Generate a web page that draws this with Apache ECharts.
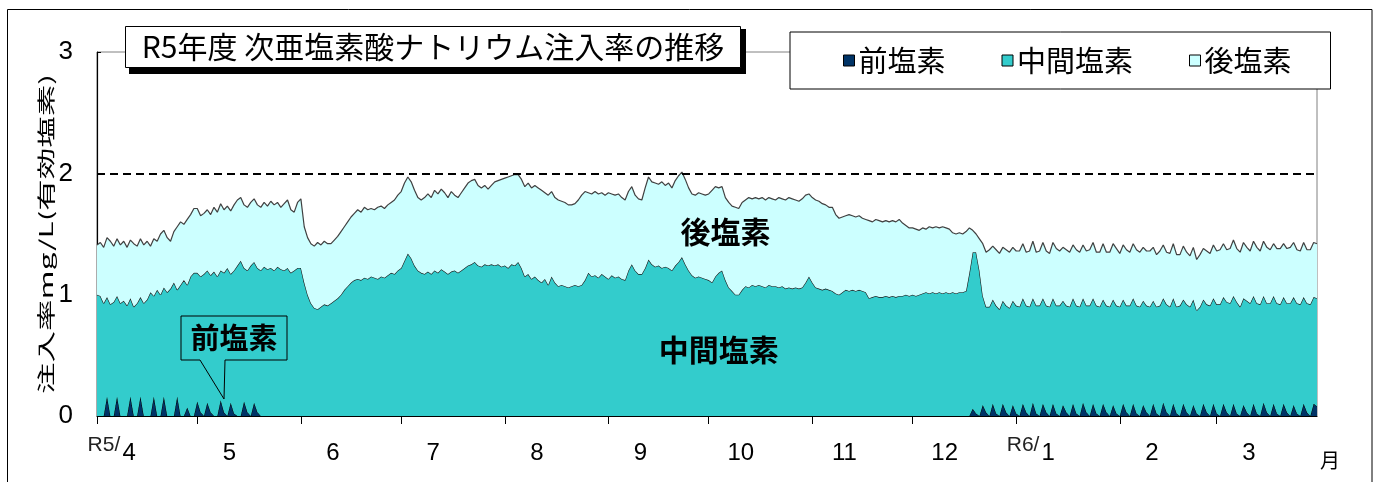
<!DOCTYPE html>
<html><head><meta charset="utf-8">
<script src="https://cdn.jsdelivr.net/npm/echarts/dist/echarts.min.js"></script>
<style>html,body{margin:0;padding:0;background:#fff}#c{width:1376px;height:482px}</style>
</head><body><div id="c"></div><script>
// ---- axis / category definitions ----
const monthLabels = ['4','5','6','7','8','9','10','11','12','1','2','3'];
const monthDays   = [30,31,30,31,31,30,31,30,31,31,29,31];
const eraLabels   = ['R5/','','','','','','','','','R6/','',''];
const yTicks = [0,1,2,3];
const yAxisTitle = '注入率mg/L(有効塩素)';
const seriesNames = ['前塩素','中間塩素','後塩素'];

// ---- series values (mg/L), one value per day, Apr 2023 .. Mar 2024 ----
const maeEnso = [
/*4*/ 0,0,0,0.16,0,0,0.16,0,0,0, 0.16,0,0,0.16,0,0,0,0.16,0,0, 0.16,0,0,0,0.16,0,0,0.07,0,0,
/*5*/ 0.12,0.03,0,0.11,0.03,0,0,0.13,0.03,0, 0.11,0.02,0,0,0.12,0.03,0,0.11,0.03,0, 0,0,0,0,0,0,0,0,0,0,0,
/*6*/ 0,0,0,0,0,0,0,0,0,0, 0,0,0,0,0,0,0,0,0,0, 0,0,0,0,0,0,0,0,0,0,
/*7*/ 0,0,0,0,0,0,0,0,0,0, 0,0,0,0,0,0,0,0,0,0, 0,0,0,0,0,0,0,0,0,0,0,
/*8*/ 0,0,0,0,0,0,0,0,0,0, 0,0,0,0,0,0,0,0,0,0, 0,0,0,0,0,0,0,0,0,0,0,
/*9*/ 0,0,0,0,0,0,0,0,0,0, 0,0,0,0,0,0,0,0,0,0, 0,0,0,0,0,0,0,0,0,0,
/*10*/0,0,0,0,0,0,0,0,0,0, 0,0,0,0,0,0,0,0,0,0, 0,0,0,0,0,0,0,0,0,0,0,
/*11*/0,0,0,0,0,0,0,0,0,0, 0,0,0,0,0,0,0,0,0,0, 0,0,0,0,0,0,0,0,0,0,
/*12*/0,0,0,0,0,0,0,0,0,0, 0,0,0,0,0,0,0,0, 0.06,0.02,0,0.09,0.03,0,0.1,0.02,0,0.1,0.03,0,0.09,
/*1*/ 0.02,0,0.1,0.03,0,0.11,0.02,0,0.1,0.03, 0,0.1,0.02,0,0.09,0.03,0,0.1,0.02,0, 0.11,0.03,0,0.1,0.02,0,0.1,0.03,0,0.09, 0.02,
/*2*/ 0,0.1,0.03,0,0.1,0.02,0,0.09,0.03,0, 0.1,0.02,0,0.11,0.03,0,0.1,0.02,0,0.1, 0.03,0,0.09,0.02,0,0.1,0.03,0,0.1,
/*3*/ 0.02,0,0.1,0.03,0,0.1,0.02,0,0.09,0.03, 0,0.1,0.02,0,0.11,0.03,0,0.1,0.02,0, 0.1,0.03,0,0.09,0.02,0,0.1,0.03,0,0.1, 0.08
];
const chukanEnso = [
/*4*/ 1.0,0.99,0.93,0.82,0.92,0.94,0.83,0.93,0.95,0.91, 0.81,0.9,0.93,0.82,0.93,0.96,1.02,0.83,1.04,1.0, 0.9,1.02,1.05,1.1,0.88,1.08,1.12,1.01,1.15,1.18,
/*5*/ 1.06,1.12,1.17,1.09,1.13,1.19,1.15,1.07,1.15,1.22, 1.06,1.18,1.24,1.28,1.1,1.17,1.24,1.16,1.19,1.2, 1.23,1.21,1.22,1.2,1.23,1.21,1.2,1.22,1.18,1.2,1.22,
/*6*/ 1.22,1.1,1.0,0.93,0.89,0.88,0.9,0.92,0.91,0.93, 0.95,0.97,1.0,1.04,1.07,1.1,1.12,1.13,1.12,1.14, 1.13,1.15,1.14,1.13,1.15,1.14,1.16,1.18,1.17,1.2,
/*7*/ 1.22,1.28,1.34,1.3,1.24,1.2,1.18,1.17,1.19,1.17, 1.2,1.18,1.21,1.19,1.17,1.19,1.2,1.18,1.2,1.22, 1.24,1.25,1.27,1.24,1.23,1.25,1.24,1.25,1.24,1.25,1.23,
/*8*/ 1.24,1.22,1.25,1.24,1.27,1.22,1.15,1.17,1.13,1.15, 1.12,1.1,1.13,1.08,1.15,1.1,1.07,1.08,1.07,1.06, 1.07,1.08,1.07,1.08,1.12,1.18,1.15,1.16,1.14,1.17,1.15,
/*9*/ 1.13,1.16,1.14,1.15,1.13,1.12,1.2,1.25,1.2,1.17, 1.17,1.22,1.29,1.25,1.23,1.24,1.22,1.23,1.22,1.2, 1.24,1.27,1.31,1.25,1.2,1.16,1.14,1.15,1.14,1.13,
/*10*/1.12,1.1,1.15,1.18,1.2,1.12,1.06,1.03,1.0,1.0, 1.04,1.07,1.06,1.08,1.07,1.08,1.07,1.06,1.08,1.07, 1.07,1.06,1.07,1.05,1.06,1.05,1.06,1.05,1.06,1.1,1.15,
/*11*/1.1,1.06,1.05,1.04,1.05,1.04,1.03,1.01,1.0,1.02, 1.04,1.03,1.04,1.03,1.04,1.03,1.02,0.97,0.98,0.99, 0.98,0.98,0.99,0.98,0.99,0.98,0.99,0.99,1.0,0.99,
/*12*/1.0,0.99,1.0,1.01,1.02,1.01,1.02,1.01,1.02,1.01, 1.02,1.01,1.02,1.01,1.02,1.02,1.03,1.18, 1.29,1.33,1.2,0.9,0.87,0.9,0.86,0.89,0.88,0.85,0.88,0.89,0.86,
/*1*/ 0.89,0.9,0.87,0.88,0.9,0.86,0.89,0.91,0.87,0.88, 0.9,0.87,0.89,0.91,0.86,0.88,0.9,0.87,0.89,0.9, 0.86,0.88,0.91,0.87,0.89,0.9,0.86,0.88,0.9,0.87, 0.89,
/*2*/ 0.9,0.86,0.88,0.91,0.87,0.89,0.9,0.86,0.88,0.9, 0.85,0.88,0.91,0.86,0.89,0.9,0.87,0.88,0.91,0.86, 0.89,0.9,0.87,0.85,0.9,0.86,0.89,0.91,0.87,
/*3*/ 0.9,0.92,0.88,0.91,0.93,0.89,0.92,0.9,0.88,0.92, 0.93,0.89,0.91,0.92,0.88,0.9,0.93,0.89,0.91,0.92, 0.88,0.9,0.93,0.89,0.91,0.92,0.88,0.9,0.92,0.88, 0.89
];
const atoEnso = [
/*4*/ 0.41,0.44,0.46,0.49,0.52,0.46,0.47,0.48,0.49,0.48, 0.48,0.52,0.47,0.48,0.48,0.48,0.38,0.47,0.4,0.5, 0.47,0.45,0.39,0.42,0.52,0.52,0.46,0.54,0.51,0.53,
/*5*/ 0.53,0.5,0.5,0.5,0.5,0.53,0.53,0.55,0.52,0.51, 0.52,0.54,0.54,0.52,0.52,0.52,0.52,0.52,0.52,0.52, 0.53,0.52,0.55,0.54,0.53,0.51,0.55,0.56,0.52,0.48,0.54,
/*6*/ 0.57,0.46,0.47,0.49,0.51,0.55,0.51,0.52,0.51,0.49, 0.5,0.51,0.52,0.52,0.53,0.54,0.55,0.57,0.56,0.58, 0.57,0.56,0.56,0.59,0.58,0.57,0.58,0.58,0.61,0.62,
/*7*/ 0.63,0.64,0.63,0.63,0.62,0.6,0.6,0.63,0.64,0.63, 0.66,0.65,0.66,0.65,0.63,0.66,0.62,0.62,0.64,0.66, 0.68,0.69,0.68,0.66,0.65,0.65,0.63,0.65,0.69,0.69,0.72,
/*8*/ 0.72,0.75,0.73,0.75,0.72,0.73,0.74,0.75,0.75,0.75, 0.76,0.76,0.71,0.74,0.7,0.7,0.71,0.69,0.69,0.68, 0.67,0.67,0.71,0.74,0.73,0.66,0.68,0.69,0.69,0.67,0.67,
/*9*/ 0.71,0.67,0.68,0.68,0.67,0.66,0.65,0.64,0.62,0.62, 0.61,0.66,0.68,0.68,0.69,0.67,0.71,0.67,0.7,0.68, 0.7,0.71,0.7,0.7,0.68,0.67,0.68,0.69,0.69,0.69,
/*10*/0.71,0.76,0.74,0.7,0.69,0.68,0.7,0.7,0.72,0.71, 0.72,0.71,0.74,0.71,0.73,0.71,0.73,0.72,0.72,0.72, 0.71,0.74,0.72,0.73,0.74,0.74,0.72,0.72,0.73,0.72,0.68,
/*11*/0.7,0.72,0.72,0.71,0.69,0.68,0.69,0.65,0.63,0.62, 0.61,0.63,0.61,0.61,0.61,0.6,0.6,0.64,0.62,0.63, 0.63,0.62,0.62,0.62,0.62,0.62,0.63,0.6,0.57,0.56,
/*12*/0.55,0.55,0.53,0.54,0.52,0.55,0.53,0.55,0.53,0.55, 0.53,0.53,0.49,0.49,0.49,0.48,0.49,0.37,0.18,0.15, 0.26,0.43,0.45,0.47,0.44,0.46,0.46,0.44,0.46,0.46,0.44,
/*1*/ 0.45,0.46,0.45,0.44,0.46,0.47,0.44,0.45,0.46,0.45, 0.44,0.46,0.47,0.45,0.44,0.46,0.45,0.44,0.46,0.45, 0.44,0.45,0.46,0.46,0.44,0.45,0.46,0.44,0.45,0.46, 0.47,
/*2*/ 0.44,0.45,0.46,0.44,0.45,0.46,0.45,0.44,0.45,0.46, 0.44,0.43,0.45,0.44,0.43,0.44,0.45,0.43,0.42,0.44, 0.43,0.42,0.43,0.42,0.43,0.42,0.44,0.43,0.44,
/*3*/ 0.44,0.45,0.44,0.43,0.45,0.46,0.44,0.45,0.46,0.44, 0.43,0.45,0.46,0.44,0.45,0.46,0.44,0.43,0.45,0.46, 0.44,0.45,0.46,0.45,0.44,0.44,0.45,0.44,0.45,0.45, 0.45
];
const guideLevel = 2;  // dashed reference line

// annotation texts (anchored in data coordinates: day index, value)
const areaNotes = [
  {text:'後塩素',   day:188, value:1.52},
  {text:'中間塩素', day:186, value:0.55}
];
const calloutNote = {text:'前塩素', day:38, value:0.14};

// ---- build category axis ----
const categories = [], monthOf = [], dayOf = [];
monthDays.forEach((n, mi) => {
  for (let d = 1; d <= n; d++) { categories.push(monthLabels[mi] + '/' + d); monthOf.push(mi); dayOf.push(d); }
});

const CJK = "'Noto Sans CJK JP', 'Noto Sans CJK SC', sans-serif";
const NUM = "'Liberation Sans', Arial, sans-serif";

const chart = echarts.init(document.getElementById('c'), null, {renderer:'canvas'});

const colors = ['#003366', '#33CCCC', '#CCFFFF'];
const lineColors = ['#000000', '#1a1a1a', '#404040'];
const values = [maeEnso, chukanEnso, atoEnso];

const option = {
  animation: false,
  backgroundColor: '#ffffff',
  title: {
    text: '{t|R5年度 次亜塩素酸ナトリウム注入率の推移}',
    left: 125, top: 25, padding: [6, 8], z: 10,
    backgroundColor: '#ffffff', borderColor: '#000', borderWidth: 1,
    textStyle: { fontWeight: 'normal', rich: { t: { fontSize: 30, fontWeight: 'normal', fontFamily: CJK, color: '#000', width: 600, align: 'center', lineHeight: 32 } } }
  },
  legend: {
    data: seriesNames, left: 790, top: 32, orient: 'horizontal',
    padding: [14, 39, 14, 53], itemGap: 56, itemWidth: 11, itemHeight: 11, icon: 'rect',
    borderColor: '#000', borderWidth: 1, backgroundColor: '#fff',
    itemStyle: { borderColor: '#000', borderWidth: 1 },
    textStyle: { fontSize: 29, fontFamily: CJK, color: '#000', lineHeight: 26, padding: [0,0,0,-1] },
    selectedMode: false
  },
  grid: { left: 97, right: 59, top: 52, bottom: 66, show: true, borderColor: '#808080', borderWidth: 1, backgroundColor: 'transparent', containLabel: false, outerBoundsMode: 'none' },
  xAxis: {
    type: 'category', data: categories, boundaryGap: false,
    axisLine: { show: true, lineStyle: { color: '#000', width: 1.2 } },
    axisTick: { show: true, length: 8, lineStyle: { color: '#000' }, interval: (i) => dayOf[i] === 1 },
    splitLine: { show: false },
    axisLabel: {
      interval: (i) => dayOf[i] === 10, margin: 19, color: '#000', padding: [0, 0, 0, 4],
      formatter: (v, i) => {
        const m = monthOf[i];
        return eraLabels[m] ? '{a|' + eraLabels[m] + '}{b|' + monthLabels[m] + '}{c| }' : '{b|' + monthLabels[m] + '}';
      },
      rich: {
        a: { fontSize: 21, fontFamily: NUM, color: '#222', width: 37, align: 'right', lineHeight: 22, verticalAlign: 'top' },
        b: { fontSize: 24, fontFamily: NUM, color: '#000', lineHeight: 36 },
        c: { fontSize: 20, width: 37 }
      }
    },
    name: '月', nameLocation: 'end', nameGap: 3,
    nameTextStyle: { fontSize: 20, fontFamily: CJK, color: '#000', align: 'left', verticalAlign: 'top', padding: [34, 0, 0, 0] }
  },
  yAxis: {
    type: 'value', min: yTicks[0], max: yTicks[yTicks.length - 1], interval: 1,
    axisLine: { show: true, lineStyle: { color: '#000', width: 1.2 } },
    axisTick: { show: true, inside: true, length: 4, lineStyle: { color: '#000' } },
    splitLine: { show: false },
    axisLabel: { fontSize: 26, fontFamily: NUM, color: '#000', margin: 24 }
  },
  series: seriesNames.map((name, k) => ({
    name, type: 'line', stack: 'total', data: values[k],
    symbol: 'none', showSymbol: false, smooth: false,
    itemStyle: { color: colors[k] },
    lineStyle: { color: lineColors[k], width: k === 0 ? 1 : 1.2 },
    areaStyle: { color: colors[k], opacity: 1 },
    emphasis: { disabled: true },
    z: 2 + k,
    markLine: k === 2 ? {
      silent: true, symbol: ['none', 'none'], label: { show: false },
      lineStyle: { type: [8, 5], color: '#000', width: 2 },
      data: [{ yAxis: guideLevel }]
    } : undefined
  })),
  graphic: [
    { type: 'rect', silent: true, z: -10, shape: { x: 7.5, y: 9.5, width: 1364.5, height: 520 }, style: { fill: 'none', stroke: '#000', lineWidth: 1 } },
    // drop shadow of the title box
    { type: 'rect', silent: true, z: 5, shape: { x: 129, y: 29, width: 617, height: 45 }, style: { fill: '#000' } }
  ]
};
chart.setOption(option);

// place annotations from data coordinates
const g = [];
const axisX = chart.convertToPixel({ xAxisIndex: 0 }, 0);
const midY = chart.convertToPixel({ yAxisIndex: 0 }, (yTicks[0] + yTicks[yTicks.length - 1]) / 2);
// y axis title (condensed-looking vertical text, as in the original)
g.push({ type: 'text', z: 20, x: axisX - 51, y: midY, rotation: Math.PI / 2, scaleX: 1.75, style: { text: yAxisTitle, fontSize: 18, fontFamily: CJK, fill: '#000', align: 'center', verticalAlign: 'middle' } });
areaNotes.forEach(n => {
  const p = chart.convertToPixel({ xAxisIndex: 0, yAxisIndex: 0 }, [n.day, n.value]);
  g.push({ type: 'text', z: 20, x: p[0], y: p[1], style: { text: n.text, fontSize: 30, fontWeight: 'bold', fontFamily: CJK, fill: '#000', align: 'center', verticalAlign: 'middle' } });
});
const t = chart.convertToPixel({ xAxisIndex: 0, yAxisIndex: 0 }, [calloutNote.day, calloutNote.value]);
const tx = t[0], ty = t[1];
g.push({ type: 'polygon', z: 20, shape: { points: [[tx-43,ty-83],[tx+63,ty-83],[tx+63,ty-39],[tx+1,ty-39],[tx,ty],[tx-24,ty-39],[tx-43,ty-39]] }, style: { fill: 'none', stroke: '#000', lineWidth: 1 } });
g.push({ type: 'text', z: 21, x: tx + 10, y: ty - 61, style: { text: calloutNote.text, fontSize: 29, fontWeight: 'bold', fontFamily: CJK, fill: '#000', align: 'center', verticalAlign: 'middle' } });
chart.setOption({ graphic: option.graphic.concat(g) });
</script></body></html>
